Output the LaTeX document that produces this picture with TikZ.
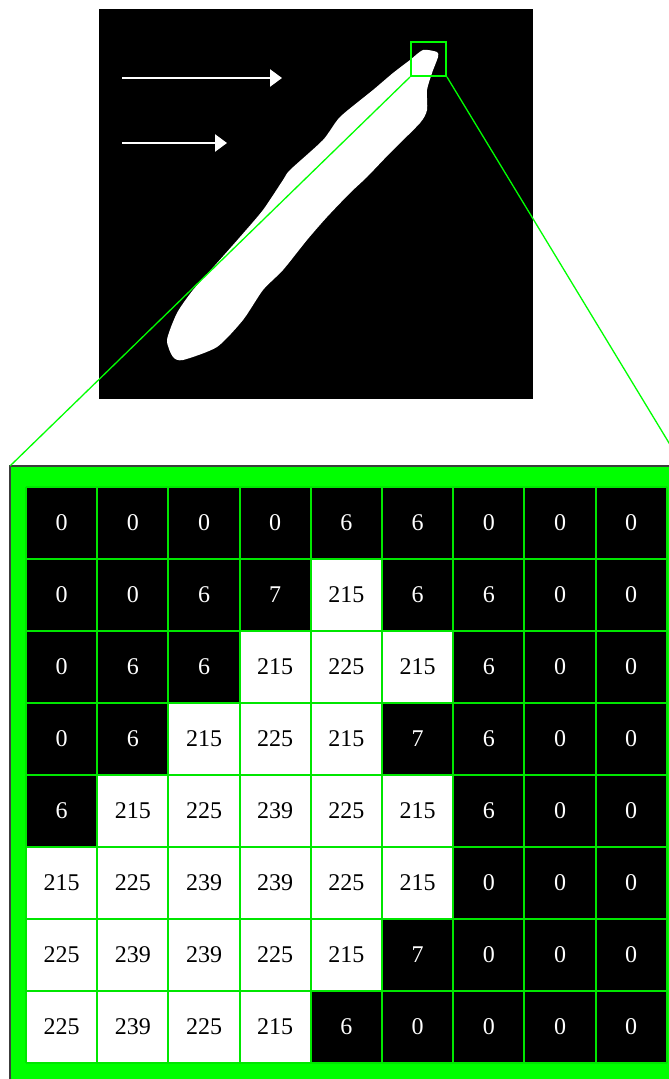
\documentclass[tikz,border=0pt]{standalone}
\usepackage{fontspec}
\setmainfont{Liberation Serif}
\usetikzlibrary{arrows.meta}
\definecolor{zoomgreen}{HTML}{00FF00}
\definecolor{cellgreen}{HTML}{00E600}
\definecolor{edgegray}{HTML}{3C3C3C}

\begin{document}
\begin{tikzpicture}[x=1pt,y=-1pt,
    every node/.style={font=\fontsize{24}{24}\selectfont},
    pixel/.style={inner sep=0pt,minimum width=71.2pt,minimum height=72pt},
    zoombox/.style={draw=zoomgreen,line width=2pt,inner sep=0pt,
        minimum width=35pt,minimum height=34pt},
    ray/.style={zoomgreen,line width=1.3pt},
    gridline/.style={cellgreen,line width=2pt},
    pointer/.style={white,line width=2.5pt,-{Triangle[length=12pt,width=17pt]}}]
  \useasboundingbox (0,0) rectangle (669,1079);
  \clip (0,0) rectangle (669,1079);
  % binarised stroke
  \node[fill=black,inner sep=0pt,minimum width=434pt,minimum height=390pt] (photo) at (316,204) {};
  \fill[white] plot[smooth cycle,tension=0.4] coordinates {
      (423,50) (437,52) (438,57) (432,73) (427,90) (427,110) (420,123)
      (390,153) (367,177) (350,193) (327,217) (307,240) (283,270) (263,290)
      (243,320) (217,347) (183,360) (173,357) (167,340) (177,313) (193,290)
      (217,263) (240,237) (263,210) (283,180) (290,170) (323,140) (340,117)
      (373,90) (393,73) (410,60)};
  \draw[pointer] (122,78) -- (282,78);
  \draw[pointer] (122,143) -- (227,143);
  \node[zoombox] (zoom) at (428.5,59) {};
  % magnified pixels
  \coordinate (fnw) at (10,466);
  \coordinate (fne) at (683,466);
  \fill[zoomgreen] (fnw) rectangle (683,1095);
  \draw[edgegray,line width=2pt] (10,1095) -- (fnw) -- (fne);
  \foreach \row [count=\r] in {{0,0,0,0,6,6,0,0,0},{0,0,6,7,215,6,6,0,0},
      {0,6,6,215,225,215,6,0,0},{0,6,215,225,215,7,6,0,0},
      {6,215,225,239,225,215,6,0,0},{215,225,239,239,225,215,0,0,0},
      {225,239,239,225,215,7,0,0,0},{225,239,225,215,6,0,0,0,0}}
    \foreach \v [count=\c] in \row {
      \ifnum\v>100 \def\bg{white}\def\fg{black}\else\def\bg{black}\def\fg{white}\fi
      \node[pixel,fill=\bg,text=\fg] (p\r-\c) at ({26+71.2*(\c-0.5)},{487+72*(\r-0.5)}) {\v};
    }
  \foreach \i [evaluate=\i as \x using {round(26+71.2*\i)}] in {0,...,9}
    \draw[gridline] (\x,487) -- (\x,1063);
  \foreach \j in {0,...,8}
    \draw[gridline] (26,{487+72*\j}) -- (667,{487+72*\j});
  \draw[ray] (zoom.south west) -- (fnw);
  \draw[ray] (zoom.south east) -- (fne);
\end{tikzpicture}
\end{document}
